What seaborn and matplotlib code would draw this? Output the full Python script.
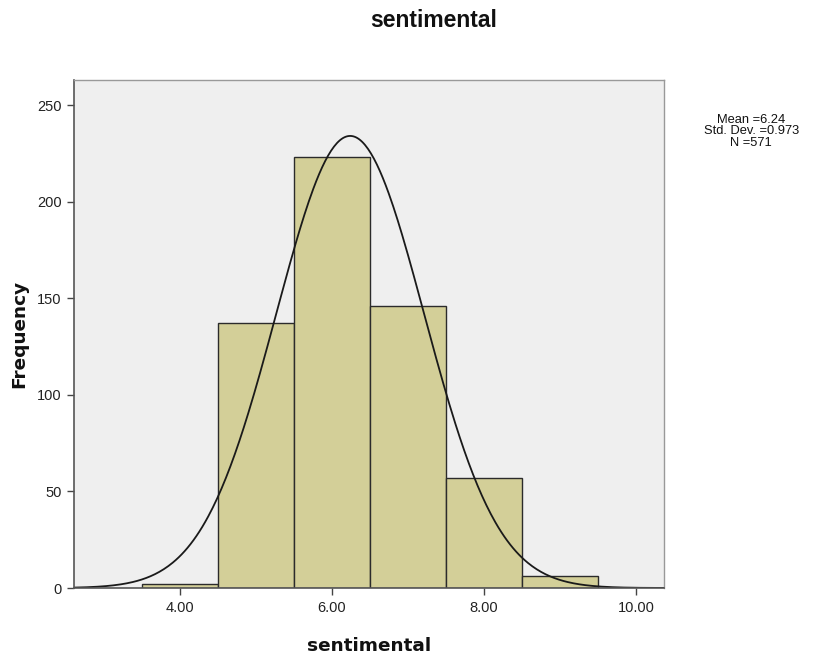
import numpy as np
import pandas as pd
import matplotlib
matplotlib.use("Agg")
import matplotlib.pyplot as plt
import seaborn as sns

# Data
bin_centers = [4, 5, 6, 7, 8, 9]
frequencies = [2, 137, 223, 146, 57, 6]
mean_val = 6.24
std_val = 0.973
n_val = 571
x_ticks = [4, 6, 8, 10]
x_tick_labels = ["4.00", "6.00", "8.00", "10.00"]
y_ticks = [0, 50, 100, 150, 200, 250]

sns.set_theme(style="white")
plt.rcParams['font.family'] = ['Liberation Sans', 'DejaVu Sans']

df = pd.DataFrame({"sentimental": bin_centers, "count": frequencies})

fig = plt.figure(figsize=(8.33, 6.57), dpi=100)
ax = fig.add_axes([0.0888, 0.105, 0.7083, 0.773])
ax.set_facecolor("#efefef")

sns.histplot(data=df, x="sentimental", weights="count", discrete=True,
             color="#d3cf98", edgecolor="#2b2b2b", linewidth=1.0, alpha=1.0, ax=ax)

# Normal curve fitted from the stated statistics
xs = np.linspace(2.6, 10.37, 400)
ys = n_val * 1.0 / (std_val * np.sqrt(2 * np.pi)) * np.exp(-0.5 * ((xs - mean_val) / std_val) ** 2)
sns.lineplot(x=xs, y=ys, color="#1a1a1a", linewidth=1.3, ax=ax)

ax.set_xlim(2.605, 10.37)
ax.set_ylim(0, 263)
ax.set_xticks(x_ticks)
ax.set_xticklabels(x_tick_labels)
ax.set_yticks(y_ticks)
ax.tick_params(axis="both", which="both", direction="out", length=5, width=1,
               color="#444444", labelsize=10.5, labelcolor="#222222", pad=4,
               bottom=True, left=True)
for side in ["left", "bottom"]:
    ax.spines[side].set_color("#555555")
    ax.spines[side].set_linewidth(1.2)
for side in ["top", "right"]:
    ax.spines[side].set_color("#999999")
    ax.spines[side].set_linewidth(1.0)

ax.set_xlabel("sentimental", fontsize=13.3, fontweight="bold", labelpad=16,
              family=["DejaVu Sans"], color="#111111")
ax.set_ylabel("Frequency", fontsize=13.3, fontweight="bold", labelpad=6,
              family=["DejaVu Sans"], color="#111111")
fig.text(0.5205, 0.969, "sentimental", ha="center", va="center", fontsize=16.5,
         fontweight="bold", color="#111111")

fig.text(0.902, 0.80, "Mean =6.24\nStd. Dev. =0.973\nN =571", ha="center", va="center",
         fontsize=9.3, linespacing=0.95, color="#111111")

fig.savefig("out.png", dpi=100, facecolor="white")
